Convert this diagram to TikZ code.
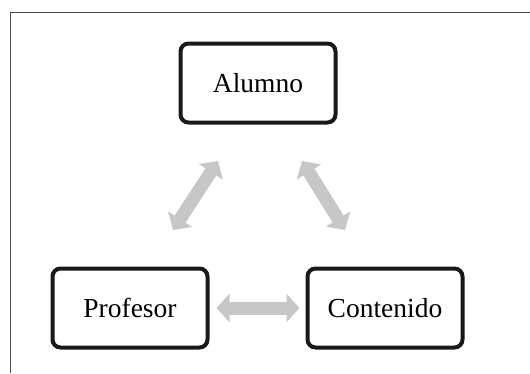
\documentclass[tikz,border=0pt]{standalone}
\usepackage{fontspec}
\setmainfont{Liberation Serif}
\usepackage{tikz}
\usetikzlibrary{positioning,arrows.meta,calc}

\begin{document}
\begin{tikzpicture}[x=1pt, y=-1pt,
  caja/.style={draw=black!90, line width=4pt, rounded corners=8pt, minimum width=155pt, minimum height=79pt, font=\fontsize{27.5}{32}\selectfont, inner sep=0pt},
  flecha/.style={draw=black!22, line width=13pt, {Triangle[length=13pt 0 0,width=28pt 0 0]}-{Triangle[length=13pt 0 0,width=28pt 0 0]}}]

\useasboundingbox (0,0) rectangle (530,373);

% marco
\draw[black!70, line width=0.8pt] (10,373) -- (10,12) -- (530,12);

\node[caja] (alumno) at (258,83) {Alumno};
\node[caja] (profesor) at (130,308) {Profesor};
\node[caja] (contenido) at (385,308) {Contenido};

\coordinate (pa) at (173,230);
\coordinate (ap) at (218,161);
\coordinate (ac) at (302,161);
\coordinate (ca) at (345,230);

\draw[flecha] (pa) -- (ap);
\draw[flecha] (ac) -- (ca);
\draw[flecha, shorten <=7pt, shorten >=6pt] (profesor.east) -- (contenido.west);

\end{tikzpicture}
\end{document}
